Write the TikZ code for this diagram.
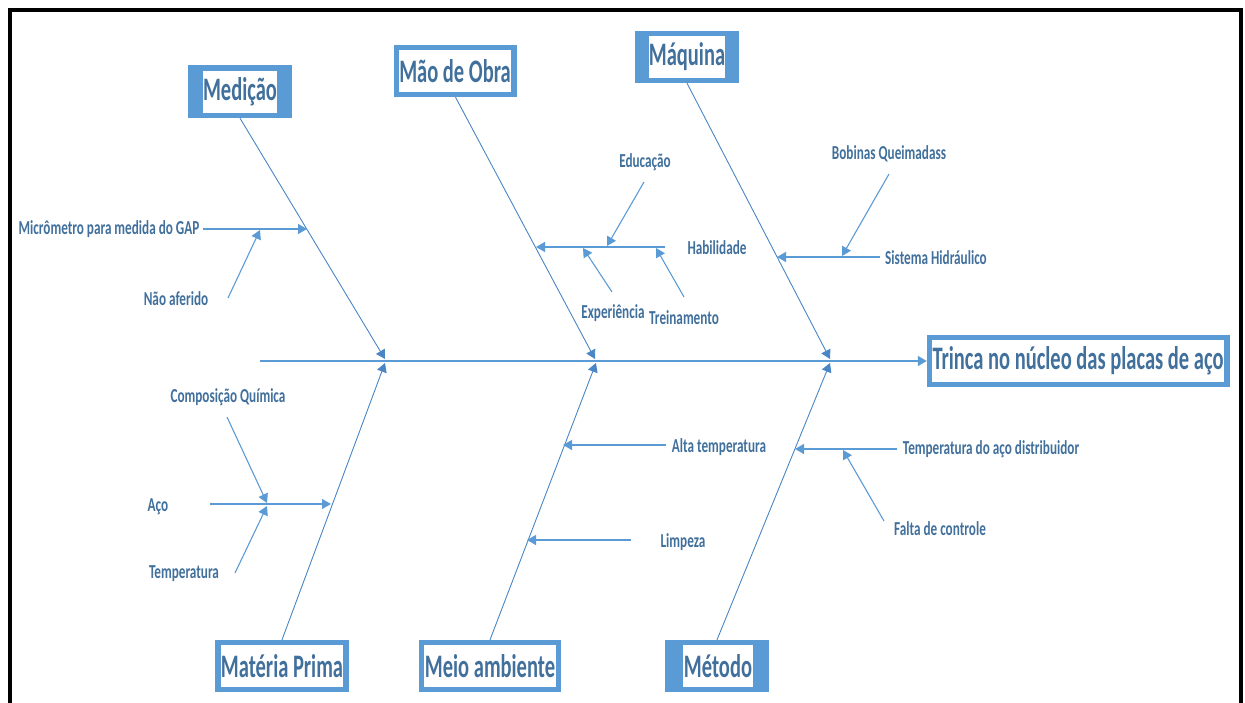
\documentclass[tikz,border=0pt]{standalone}
\usepackage{fontspec}
\usepackage{graphicx}
\setmainfont{Carlito}
\usetikzlibrary{arrows.meta}

\definecolor{acc}{RGB}{91,155,213}
\definecolor{ink}{RGB}{65,112,156}
\definecolor{tipc}{RGB}{74,134,197}

% vertically stretched lettering
\newcommand\cattext[1]{\scalebox{1}[1.6]{#1}}
\newcommand\lbltext[1]{\scalebox{1}[1.5]{#1}}

\tikzset{
  frameline/.style={line width=4pt, black},
  catouter/.style={rectangle, fill=acc, inner sep=0pt},
  catinner/.style={rectangle, fill=white, inner sep=0pt, minimum height=42pt,
    text=ink, font=\fontsize{20.5}{22}\selectfont\bfseries},
  lbl/.style={inner sep=0pt, text=ink, font=\fontsize{13.2}{15}\selectfont\bfseries},
  bone/.style={draw=acc, line width=0.9pt, -{Triangle[length=9pt,width=10pt]}, tipc},
  sub/.style={draw=acc, line width=1.4pt, -{Triangle[length=9pt,width=10pt]}},
  slant/.style={draw=acc, line width=1.1pt, -{Triangle[length=9pt,width=10pt]}},
}

\begin{document}
\begin{tikzpicture}[x=1pt,y=-1pt]
\useasboundingbox (0,0) rectangle (1245,703);

% page frame
\draw[frameline] (10,710) -- (10,10) -- (1241,10) -- (1241,710);

% effect box
\node[catouter, minimum width=303pt, minimum height=52pt] (eff) at (1078.5,361) {};
\node[catinner, minimum width=292pt] at (1078,361) {\cattext{Trinca no núcleo das placas de aço}};

% category boxes, top row
\node[catouter, minimum width=104pt, minimum height=53pt] (med) at (240,91.5) {};
\node[catinner, minimum width=74pt] at (240,92) {\cattext{Medição}};
\node[catouter, minimum width=123pt, minimum height=52pt] (mao) at (455.5,71) {};
\node[catinner, minimum width=112pt] at (455,71) {\cattext{Mão de Obra}};
\node[catouter, minimum width=104pt, minimum height=52pt] (maq) at (687,57) {};
\node[catinner, minimum width=76pt] at (687,57) {\cattext{Máquina}};

% category boxes, bottom row
\node[catouter, minimum width=134pt, minimum height=52pt] (mat) at (282,666) {};
\node[catinner, minimum width=122pt] at (282,666) {\cattext{Matéria Prima}};
\node[catouter, minimum width=142pt, minimum height=52pt] (mei) at (490,666) {};
\node[catinner, minimum width=132pt] at (490,666) {\cattext{Meio ambiente}};
\node[catouter, minimum width=104pt, minimum height=52pt] (met) at (717,666) {};
\node[catinner, minimum width=70pt] at (718,666) {\cattext{Método}};

% spine
\coordinate (tail) at (260,361);
\coordinate (jA) at (385,359);
\coordinate (jB) at (595,359);
\coordinate (jC) at (830,359);
\coordinate (kA) at (385,363);
\coordinate (kB) at (596,363);
\coordinate (kC) at (830,363);
\draw[sub] (tail) -- (eff.west);

% main bones
\draw[bone] (med.south) -- (jA);
\draw[bone] (mao.south) -- (jB);
\draw[bone] (maq.south) -- (jC);
\draw[bone] (mat.north) -- (kA);
\draw[bone] (mei.north) -- (kB);
\draw[bone] (met.north) -- (kC);

% Medição causes
\node[lbl] (micro) at (109,229) {\lbltext{Micrômetro para medida do GAP}};
\node[lbl] (naof) at (176,299) {\lbltext{Não aferido}};
\coordinate (microS) at (203,229);
\coordinate (microE) at (307,229);
\coordinate (naofS) at (228,298);
\coordinate (naofE) at (260,230);
\draw[sub] (microS) -- (microE);
\draw[slant] (naofS) -- (naofE);

% Mão de Obra causes
\node[lbl] (edu) at (645,162) {\lbltext{Educação}};
\node[lbl] (hab) at (717,248) {\lbltext{Habilidade}};
\node[lbl] (exp) at (613,313) {\lbltext{Experiência}};
\node[lbl] (tre) at (684,318) {\lbltext{Treinamento}};
\coordinate (habS) at (665,247);
\coordinate (habE) at (536,247);
\coordinate (eduS) at (644,182);
\coordinate (eduE) at (607,246);
\coordinate (expS) at (612,292);
\coordinate (expE) at (583,248);
\coordinate (treS) at (684,297);
\coordinate (treE) at (656,248);
\draw[sub] (habS) -- (habE);
\draw[slant] (eduS) -- (eduE);
\draw[slant] (expS) -- (expE);
\draw[slant] (treS) -- (treE);

% Máquina causes
\node[lbl] (bob) at (889,154) {\lbltext{Bobinas Queimadass}};
\node[lbl] (sis) at (936,258) {\lbltext{Sistema Hidráulico}};
\coordinate (sisS) at (880,257);
\coordinate (sisE) at (777,257);
\coordinate (bobS) at (889,174);
\coordinate (bobE) at (842,256);
\draw[sub] (sisS) -- (sisE);
\draw[slant] (bobS) -- (bobE);

% Matéria Prima causes
\node[lbl] (comp) at (228,397) {\lbltext{Composição Química}};
\node[lbl] (aco) at (158,507) {\lbltext{Aço}};
\node[lbl] (temp) at (184,574) {\lbltext{Temperatura}};
\coordinate (acoS) at (210,504);
\coordinate (acoE) at (331,504);
\coordinate (compS) at (227,417);
\coordinate (compE) at (267,503);
\coordinate (tempS) at (235,573);
\coordinate (tempE) at (267,506);
\draw[sub] (acoS) -- (acoE);
\draw[slant] (compS) -- (compE);
\draw[slant] (tempS) -- (tempE);

% Meio ambiente causes
\node[lbl] (alta) at (719,447) {\lbltext{Alta temperatura}};
\node[lbl] (limp) at (683,542) {\lbltext{Limpeza}};
\coordinate (altaS) at (666,445);
\coordinate (altaE) at (563,445);
\coordinate (limpS) at (631,540);
\coordinate (limpE) at (527,540);
\draw[sub] (altaS) -- (altaE);
\draw[sub] (limpS) -- (limpE);

% Método causes
\node[lbl] (tad) at (991,449) {\lbltext{Temperatura do aço distribuidor}};
\node[lbl] (falta) at (940,529) {\lbltext{Falta de controle}};
\coordinate (tadS) at (897,449);
\coordinate (tadE) at (795,449);
\coordinate (faltaS) at (884,521);
\coordinate (faltaE) at (843,450);
\draw[sub] (tadS) -- (tadE);
\draw[slant] (faltaS) -- (faltaE);
\end{tikzpicture}
\end{document}
